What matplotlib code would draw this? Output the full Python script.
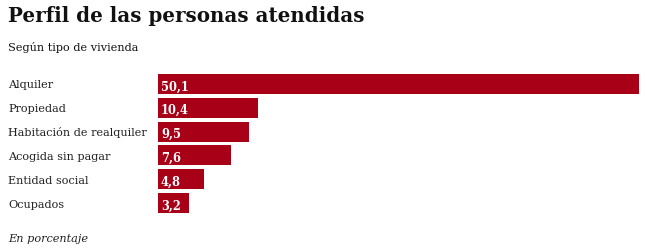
import matplotlib.pyplot as plt

categories = ["Alquiler", "Propiedad", "Habitación de realquiler",
              "Acogida sin pagar", "Entidad social", "Ocupados"]
values = [50.1, 10.4, 9.5, 7.6, 4.8, 3.2]
value_labels = ["50,1", "10,4", "9,5", "7,6", "4,8", "3,2"]

BAR_COLOR = "#a80016"
SERIF = ["DejaVu Serif"]

W, H = 646, 251
fig = plt.figure(figsize=(W / 100, H / 100), dpi=100, facecolor="white")

# axes placed in pixel coords: bars span x 158..639, y 75..214
left, right, top, bottom = 158, 639, 75, 214
ax = fig.add_axes([left / W, 1 - bottom / H, (right - left) / W, (bottom - top) / H])

h = 20 / 24
y = list(range(len(categories)))
ax.barh(y, values, height=h, color=BAR_COLOR, left=0)
ax.set_xlim(0, max(values))
ax.set_ylim(len(categories) - 1 + h / 2, -h / 2)
ax.axis("off")

for yi, v, lab in zip(y, values, value_labels):
    ax.text(0.3, yi + 0.08, lab, color="white", fontsize=8.3, fontweight="semibold",
            family=SERIF, va="center", ha="left")

for yi, cat in zip(y, categories):
    fig.text(8 / W, 1 - (85 + 24 * yi) / H, cat, fontsize=8.15, family=SERIF,
             va="center", ha="left", color="#222222")

fig.text(8 / W, 1 - 22 / H, "Perfil de las personas atendidas", fontsize=14.3,
         fontweight="bold", family=SERIF, ha="left", va="baseline", color="#111111")
fig.text(8 / W, 1 - 51 / H, "Según tipo de vivienda", fontsize=8.1, family=SERIF,
         ha="left", va="baseline", color="#111111")
fig.text(8 / W, 1 - 242 / H, "En porcentaje", fontsize=8.1, family=SERIF,
         style="italic", ha="left", va="baseline", color="#222222")

fig.savefig("out.png", dpi=100, facecolor="white")
